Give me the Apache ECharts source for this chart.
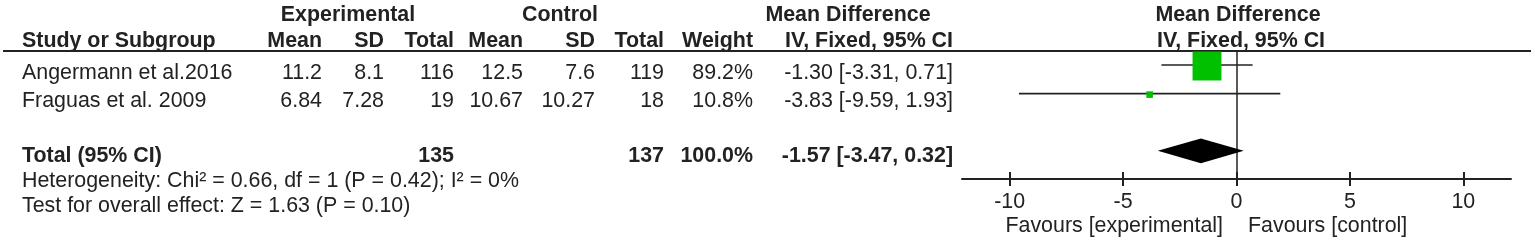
<!DOCTYPE html>
<html>
<head>
<meta charset="utf-8">
<script src="https://cdn.jsdelivr.net/npm/echarts@6/dist/echarts.min.js"></script>
<style>
html,body{margin:0;padding:0;background:#fff;}
#chart{width:1535px;height:244px;}
</style>
</head>
<body>
<div id="chart"></div>
<script>
// ---- data ----
const studies = ['Angermann et al.2016', 'Fraguas et al. 2009'];
const expMean = [11.2, 6.84];
const expSD = [8.1, 7.28];
const expN = [116, 19];
const ctlMean = [12.5, 10.67];
const ctlSD = [7.6, 10.27];
const ctlN = [119, 18];
const weight = [89.2, 10.8];
const md = [-1.30, -3.83];
const ciLo = [-3.31, -9.59];
const ciHi = [0.71, 1.93];
const studyRow = [0, 1];

const totalLabel = 'Total (95% CI)';
const totalExpN = 135;
const totalCtlN = 137;
const totalWeight = 100.0;
const totalMD = -1.57;
const totalLo = -3.47;
const totalHi = 0.32;
const totalRow = 3;

const heterogeneity = 'Heterogeneity: Chi² = 0.66, df = 1 (P = 0.42); I² = 0%';
const overallTest = 'Test for overall effect: Z = 1.63 (P = 0.10)';
const xTicks = [-10, -5, 0, 5, 10];
const favLeft = 'Favours [experimental]';
const favRight = 'Favours [control]';

// ---- layout ----
const FONT = '"Liberation Sans", Arial, sans-serif';
const TXT = '#222';
const FS = 21.4;
const colRight = {eMean: 322, eSD: 384, eN: 454, cMean: 523, cSD: 595, cN: 664, w: 753, ci: 953};
const rowY = {h1: 15, h2: 41.5, r: [73.3, 101], total: 156.5, het: 181.5, test: 206.5};

function t(text, x, y, align, bold) {
  return {type: 'text', x: x, y: y, silent: true,
    style: {text: text, fill: TXT, font: (bold ? 'bold ' : '') + FS + 'px ' + FONT,
      align: align, verticalAlign: 'middle'}};
}
function ci(m, lo, hi) { return m.toFixed(2) + ' [' + lo.toFixed(2) + ', ' + hi.toFixed(2) + ']'; }

const g = [];
// headers
g.push(t('Experimental', 348, rowY.h1, 'center', true));
g.push(t('Control', 560, rowY.h1, 'center', true));
g.push(t('Mean Difference', 848, rowY.h1, 'center', true));
g.push(t('Mean Difference', 1238, rowY.h1, 'center', true));
g.push(t('Study or Subgroup', 22, rowY.h2, 'left', true));
g.push(t('Mean', colRight.eMean, rowY.h2, 'right', true));
g.push(t('SD', colRight.eSD, rowY.h2, 'right', true));
g.push(t('Total', colRight.eN, rowY.h2, 'right', true));
g.push(t('Mean', colRight.cMean, rowY.h2, 'right', true));
g.push(t('SD', colRight.cSD, rowY.h2, 'right', true));
g.push(t('Total', colRight.cN, rowY.h2, 'right', true));
g.push(t('Weight', colRight.w, rowY.h2, 'right', true));
g.push(t('IV, Fixed, 95% CI', colRight.ci, rowY.h2, 'right', true));
g.push(t('IV, Fixed, 95% CI', 1241, rowY.h2, 'center', true));
// header rule
g.push({type: 'line', silent: true, shape: {x1: 3, y1: 51, x2: 1531, y2: 51},
  style: {stroke: TXT, lineWidth: 2}});
// study rows
studies.forEach(function (s, i) {
  const y = rowY.r[i];
  g.push(t(s, 22, y, 'left', false));
  g.push(t(String(expMean[i]), colRight.eMean, y, 'right', false));
  g.push(t(String(expSD[i]), colRight.eSD, y, 'right', false));
  g.push(t(String(expN[i]), colRight.eN, y, 'right', false));
  g.push(t(String(ctlMean[i]), colRight.cMean, y, 'right', false));
  g.push(t(String(ctlSD[i]), colRight.cSD, y, 'right', false));
  g.push(t(String(ctlN[i]), colRight.cN, y, 'right', false));
  g.push(t(weight[i].toFixed(1) + '%', colRight.w, y, 'right', false));
  g.push(t(ci(md[i], ciLo[i], ciHi[i]), colRight.ci, y, 'right', false));
});
// total row
g.push(t(totalLabel, 22, rowY.total, 'left', true));
g.push(t(String(totalExpN), colRight.eN, rowY.total, 'right', true));
g.push(t(String(totalCtlN), colRight.cN, rowY.total, 'right', true));
g.push(t(totalWeight.toFixed(1) + '%', colRight.w, rowY.total, 'right', true));
g.push(t(ci(totalMD, totalLo, totalHi), colRight.ci, rowY.total, 'right', true));
g.push(t(heterogeneity, 22, rowY.het, 'left', false));
g.push(t(overallTest, 22, rowY.test, 'left', false));
// favours
g.push(t(favLeft, 1223, 226.5, 'right', false));
g.push(t(favRight, 1248, 226.5, 'left', false));

const studyData = studies.map(function (s, i) {
  return [md[i], ciLo[i], ciHi[i], weight[i], studyRow[i]];
});

const chart = echarts.init(document.getElementById('chart'), null, {renderer: 'canvas'});
chart.setOption({
  animation: false,
  backgroundColor: '#fff',
  grid: {left: 962, right: 24, top: 51, bottom: 72},
  xAxis: [{
    type: 'value', min: -12.1, max: 12.1, position: 'bottom', offset: 7,
    axisLine: {show: true, onZero: false, lineStyle: {color: TXT, width: 2}},
    axisTick: {show: true, inside: false, length: 7, customValues: xTicks, lineStyle: {color: TXT, width: 2}},
    axisLabel: {show: true, customValues: xTicks, margin: 12, color: TXT, fontSize: FS, fontFamily: FONT, lineHeight: 22},
    splitLine: {show: false}
  }, {
    type: 'value', min: -12.1, max: 12.1, position: 'bottom', offset: 7,
    axisLine: {show: false, onZero: false},
    axisTick: {show: true, inside: true, length: 7, customValues: xTicks, lineStyle: {color: TXT, width: 2}},
    axisLabel: {show: false},
    splitLine: {show: false}
  }],
  yAxis: {
    type: 'value', inverse: true, min: -0.49, max: 3.74,
    axisLine: {show: true, onZero: true, lineStyle: {color: TXT, width: 1.5}},
    axisTick: {show: false}, axisLabel: {show: false}, splitLine: {show: false}
  },
  series: [{
    type: 'custom',
    clip: false,
    data: studyData,
    encode: {x: [0, 1, 2], y: 4},
    renderItem: function (params, api) {
      const r = api.value(4);
      const p = api.coord([api.value(0), r]);
      const l = api.coord([api.value(1), r]);
      const h = api.coord([api.value(2), r]);
      const s = 3.5 + 0.285 * api.value(3);
      return {type: 'group', children: [
        {type: 'line', shape: {x1: l[0], y1: l[1], x2: h[0], y2: h[1]}, style: {stroke: TXT, lineWidth: 1.6}},
        {type: 'rect', shape: {x: p[0] - s / 2, y: p[1] - s / 2 + 1, width: s, height: s}, style: {fill: '#00c000'}}
      ]};
    }
  }, {
    type: 'custom',
    clip: false,
    data: [[totalMD, totalLo, totalHi, totalRow]],
    encode: {x: [0, 1, 2], y: 3},
    renderItem: function (params, api) {
      const r = api.value(3);
      const p = api.coord([api.value(0), r]);
      const l = api.coord([api.value(1), r]);
      const h = api.coord([api.value(2), r]);
      const hh = 12.4;
      return {type: 'polygon', shape: {points: [[l[0], l[1]], [p[0], p[1] - hh], [h[0], h[1]], [p[0], p[1] + hh]]},
        style: {fill: '#000'}};
    }
  }],
  graphic: g
});
</script>
</body>
</html>
